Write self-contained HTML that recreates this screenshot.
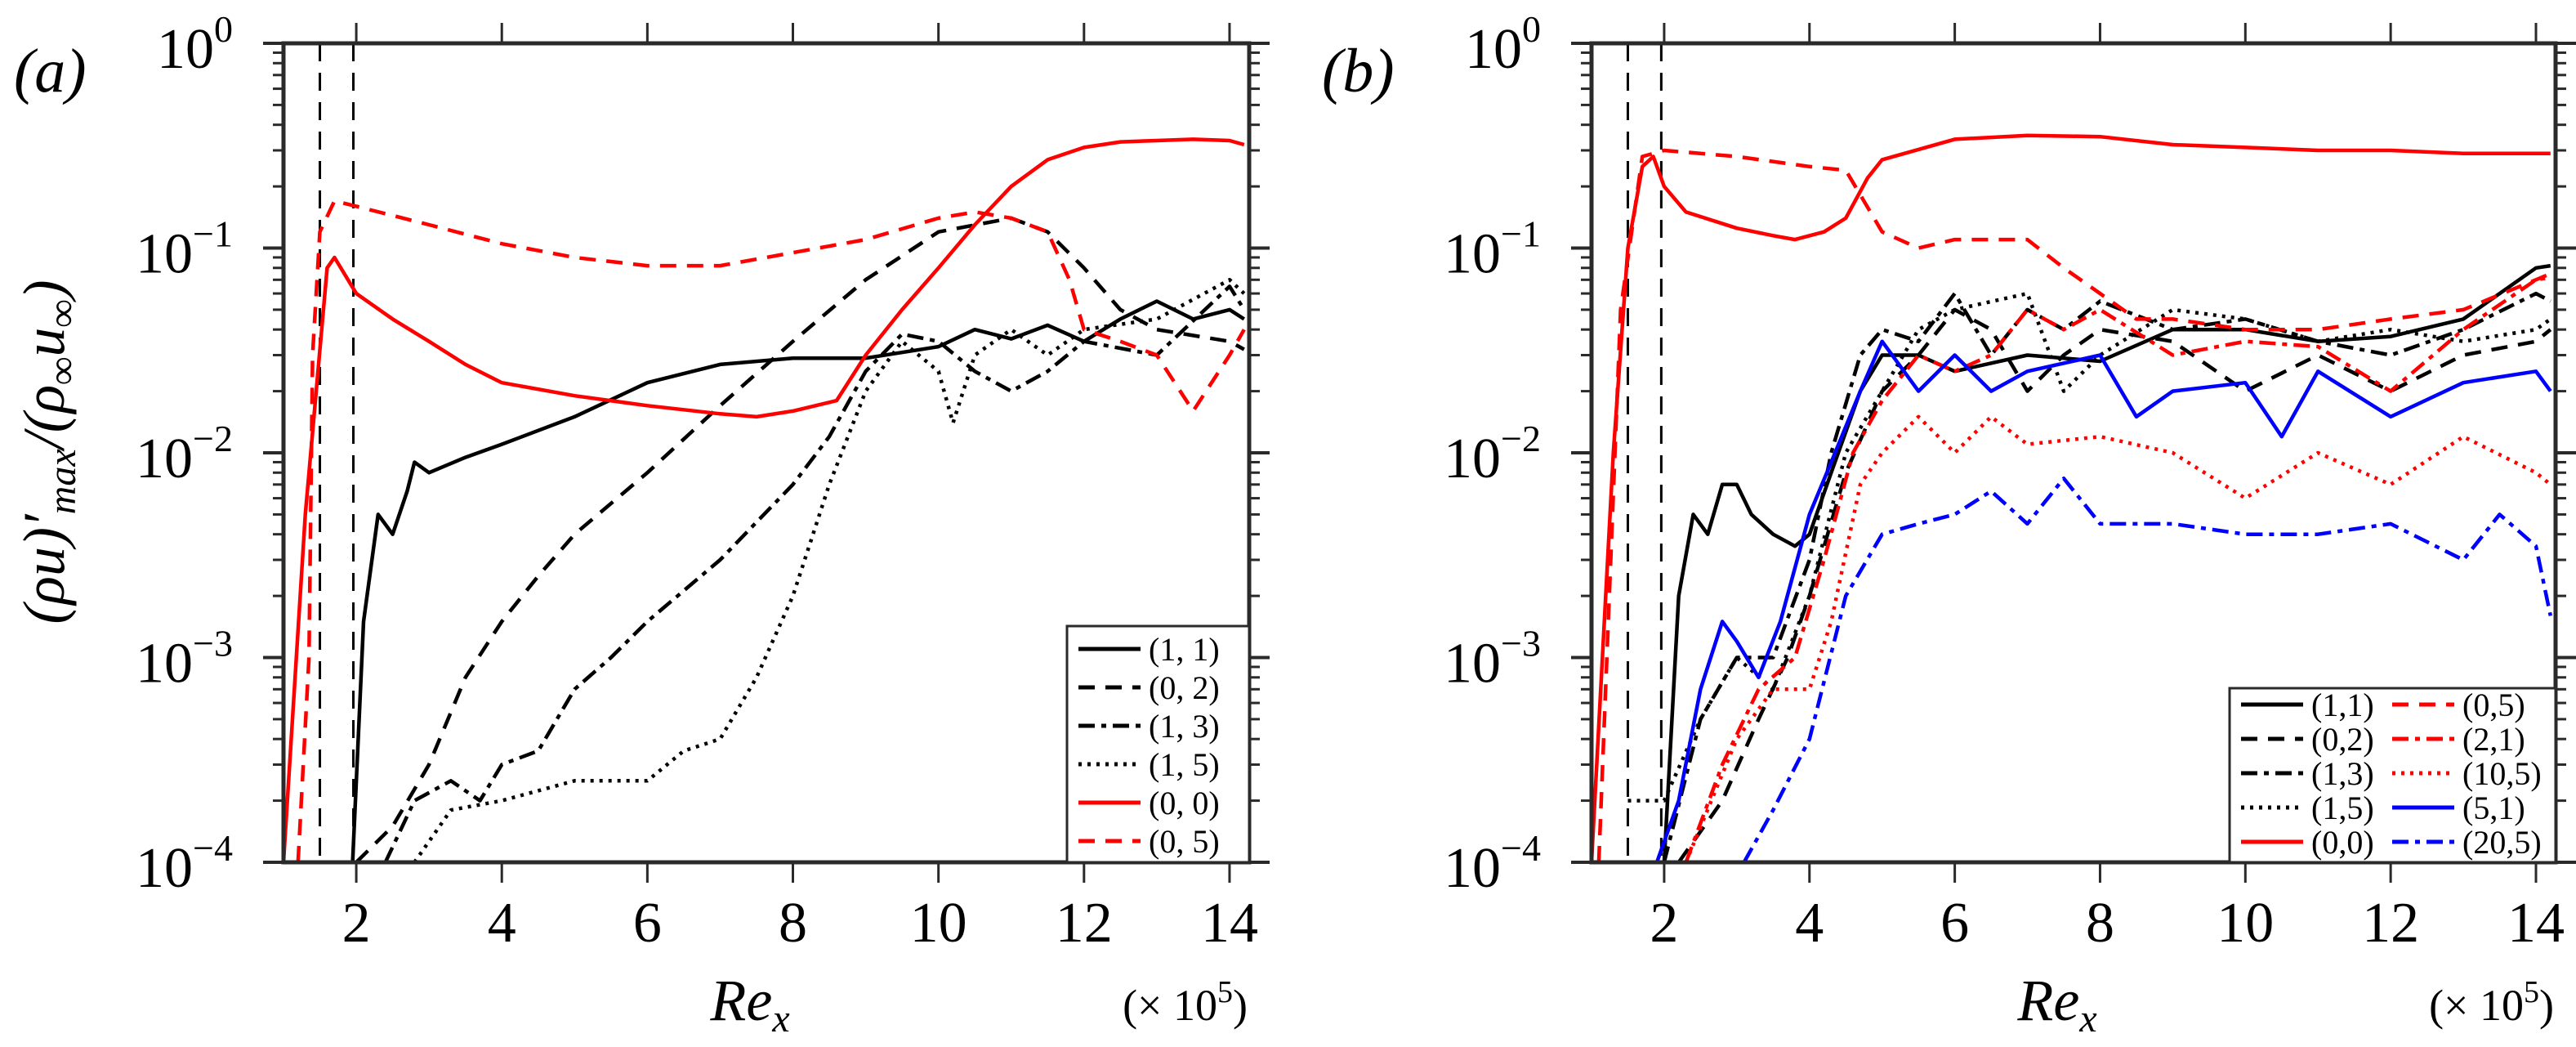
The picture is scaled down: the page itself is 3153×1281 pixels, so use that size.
<!DOCTYPE html>
<html><head><meta charset="utf-8"><style>
html,body{margin:0;padding:0;background:#fff;}
svg{display:block;font-family:"Liberation Serif","DejaVu Serif",serif;}
</style></head><body>
<svg id="chart" width="3153" height="1281" viewBox="0 0 3153 1281" xmlns="http://www.w3.org/2000/svg"></svg>
<script>
// ---------- data: panel (a) ----------
const aX11=[1.95,2.1,2.3,2.5,2.7,2.8,3,3.5,4,5,6,7,8,9,10,10.5,11,11.5,12,12.5,13,13.5,14,14.2];
const aY11=[1e-4,0.0015,0.005,0.004,0.0065,0.009,0.008,0.0095,0.011,0.015,0.022,0.027,0.029,0.029,0.033,0.04,0.036,0.042,0.035,0.045,0.055,0.045,0.05,0.045];
const aX02=[2,2.5,3,3.5,4,4.5,5,6,7,8,9,10,11,11.5,12,12.5,13,14,14.2];
const aY02=[1e-4,1.5e-4,3e-4,8e-4,0.0015,0.0025,0.004,0.008,0.017,0.035,0.07,0.12,0.14,0.12,0.08,0.05,0.04,0.035,0.032];
const aX13=[2.4,2.8,3.3,3.7,4,4.5,5,5.5,6,7,8,8.5,9,9.5,10,10.5,11,11.5,12,13,14,14.2];
const aY13=[1e-4,2e-4,2.5e-4,2e-4,3e-4,3.5e-4,7e-4,0.001,0.0015,0.003,0.007,0.012,0.025,0.038,0.035,0.025,0.02,0.025,0.035,0.03,0.065,0.05];
const aX15=[2.8,3.3,4,5,6,6.5,7,7.5,8,8.5,9,9.5,10,10.2,10.5,11,11.5,12,13,14,14.2];
const aY15=[1e-4,1.8e-4,2e-4,2.5e-4,2.5e-4,3.5e-4,4e-4,8e-4,0.002,0.007,0.02,0.035,0.025,0.014,0.03,0.04,0.03,0.04,0.045,0.07,0.06];
const aX00=[1.0,1.3,1.6,1.7,2.0,2.5,3,3.5,4,5,6,7,7.5,8,8.6,9,9.5,10,10.5,11,11.5,12,12.5,13,13.5,14,14.2];
const aY00=[1e-4,0.005,0.08,0.09,0.06,0.045,0.035,0.027,0.022,0.019,0.017,0.0155,0.015,0.016,0.018,0.03,0.05,0.08,0.13,0.2,0.27,0.31,0.33,0.335,0.34,0.335,0.32];
const aX05=[1.2,1.35,1.4,1.5,1.7,2,3,4,5,6,7,8,9,10,10.5,11,11.5,11.8,12,12.5,13,13.5,14,14.2];
const aY05=[1e-4,1e-3,0.03,0.12,0.17,0.16,0.13,0.105,0.09,0.082,0.082,0.095,0.11,0.14,0.15,0.14,0.12,0.07,0.04,0.035,0.03,0.016,0.03,0.04];
// ---------- data: panel (b) ----------
const bX00=[1.0,1.3,1.5,1.7,1.85,2,2.3,3,3.5,3.8,4.2,4.5,4.8,5,6,7,8,9,10,11,12,13,14,14.2];
const bY00=[1e-4,0.01,0.1,0.25,0.28,0.2,0.15,0.125,0.115,0.11,0.12,0.14,0.22,0.27,0.34,0.355,0.35,0.32,0.31,0.3,0.3,0.29,0.29,0.29];
const bX05=[1.1,1.4,1.7,2,3,4,4.5,5,5.5,6,7,7.5,8,8.5,9,10,11,12,13,14,14.2];
const bY05=[1e-4,0.05,0.28,0.3,0.28,0.25,0.24,0.12,0.1,0.11,0.11,0.08,0.06,0.045,0.045,0.04,0.04,0.045,0.05,0.07,0.075];
const bX11=[2,2.2,2.4,2.6,2.8,3,3.2,3.5,3.8,4,4.3,4.7,5,5.5,6,7,8,9,10,11,12,13,14,14.2];
const bY11=[1e-4,0.002,0.005,0.004,0.007,0.007,0.005,0.004,0.0035,0.004,0.008,0.02,0.03,0.03,0.025,0.03,0.028,0.04,0.04,0.035,0.037,0.045,0.08,0.082];
const bX02=[2.2,2.8,3.3,3.7,4,4.5,5,5.5,6,6.5,7,7.5,8,9,10,11,12,13,14,14.2];
const bY02=[1e-4,2e-4,5e-4,0.001,0.002,0.008,0.02,0.03,0.05,0.04,0.02,0.03,0.04,0.035,0.02,0.03,0.02,0.03,0.035,0.04];
const bX13=[2,2.5,3,3.5,4,4.3,4.7,5,5.5,6,6.5,7,7.5,8,9,10,11,12,13,14,14.2];
const bY13=[1e-4,5e-4,0.001,0.001,0.003,0.01,0.03,0.04,0.035,0.06,0.03,0.05,0.04,0.055,0.04,0.045,0.035,0.03,0.04,0.06,0.055];
const bX15=[1.5,2,2.5,3,3.5,4,4.5,5,5.5,6,7,7.5,8,9,10,11,12,13,14,14.2];
const bY15=[2e-4,2e-4,5e-4,0.001,0.0007,0.002,0.01,0.02,0.04,0.05,0.06,0.02,0.03,0.05,0.045,0.035,0.04,0.035,0.04,0.045];
const bX21=[2.3,2.8,3.3,3.8,4.2,4.6,5,5.5,6,6.5,7,7.5,8,9,10,11,12,13,14,14.2];
const bY21=[1e-4,3e-4,7e-4,0.001,0.003,0.01,0.018,0.03,0.025,0.03,0.05,0.04,0.05,0.03,0.035,0.033,0.02,0.04,0.07,0.072];
const bX105=[2.3,3,3.5,4,4.3,4.7,5,5.5,6,6.5,7,8,9,10,11,12,13,14,14.2];
const bY105=[1e-4,4e-4,0.0007,0.0007,0.0015,0.007,0.01,0.015,0.01,0.015,0.011,0.012,0.01,0.006,0.01,0.007,0.012,0.008,0.007];
const bX51=[1.9,2.2,2.5,2.8,3,3.3,3.6,4,4.3,4.7,5,5.5,6,6.5,7,8,8.5,9,10,10.5,11,12,13,14,14.2];
const bY51=[1e-4,2e-4,7e-4,0.0015,0.0012,0.0008,0.0015,0.005,0.009,0.02,0.035,0.02,0.03,0.02,0.025,0.03,0.015,0.02,0.022,0.012,0.025,0.015,0.022,0.025,0.02];
const bX205=[3.1,3.5,4,4.5,5,5.5,6,6.5,7,7.5,8,9,10,11,12,13,13.5,14,14.2];
const bY205=[1e-4,1.8e-4,0.0004,0.002,0.004,0.0045,0.005,0.0065,0.0045,0.0075,0.0045,0.0045,0.004,0.004,0.0045,0.003,0.005,0.0035,0.0016];
const xTicks=[2,4,6,8,10,12,14];
const yDecades=[0,-1,-2,-3,-4];

const NS="http://www.w3.org/2000/svg";
const svg=document.getElementById('chart');
function mk(tag,attrs,parent){const e=document.createElementNS(NS,tag);for(const k in attrs)e.setAttribute(k,attrs[k]);(parent||svg).appendChild(e);return e;}

const TOP=53,BOT=1055,XMIN=1.0,XMAX=14.27;
const panels=[{left:347,right:1529,name:'a'},{left:1948,right:3128,name:'b'}];
function xs(p,v){return p.left+(v-XMIN)/(XMAX-XMIN)*(p.right-p.left);}
function ys(v){return TOP+(-Math.log10(v))/4*(BOT-TOP);}

const DASH={solid:'',dash:'20,13',dashdot:'20,8,6,8',dot:'4,7'};

function drawPanel(p,series,legend,panelLabel){
  const g=mk('g',{});
  
  
  const cid='clip'+p.name;
  const cp=mk('clipPath',{id:cid},g);mk('rect',{x:p.left,y:TOP,width:p.right-p.left,height:BOT-TOP},cp);
  [1.5,1.96].forEach(v=>{
    const l=mk('line',{x1:xs(p,v),x2:xs(p,v),y1:TOP,y2:BOT,stroke:'#000','stroke-width':3,'stroke-dasharray':'22,14'},g);
    
    
  });
  const sg=mk('g',{'clip-path':'url(#'+cid+')'},g);
  series.forEach(s=>{
    const pts=s.x.map((v,i)=>xs(p,v).toFixed(1)+','+ys(s.y[i]).toFixed(1)).join(' ');
    const pl=mk('polyline',{points:pts,fill:'none',stroke:s.c,'stroke-width':4.5,'stroke-dasharray':DASH[s.d],'stroke-linejoin':'round'},sg);
    
    
  });
  const fr=mk('rect',{x:p.left,y:TOP,width:p.right-p.left,height:BOT-TOP,fill:'none',stroke:'#2a2a2a','stroke-width':5},g);
  
  
  xTicks.forEach(t=>{
    const x=xs(p,t);
    mk('line',{x1:x,x2:x,y1:BOT,y2:BOT+25,stroke:'#2a2a2a','stroke-width':3},g);
    mk('line',{x1:x,x2:x,y1:TOP,y2:TOP-25,stroke:'#2a2a2a','stroke-width':3},g);
    const tl=mk('text',{x:x,y:1152,'font-size':70,'text-anchor':'middle'},g);
    tl.textContent=t;
    
    
  });
  yDecades.forEach(d=>{
    const y=ys(Math.pow(10,d));
    mk('line',{x1:p.left-25,x2:p.left,y1:y,y2:y,stroke:'#2a2a2a','stroke-width':4},g);
    mk('line',{x1:p.right,x2:p.right+25,y1:y,y2:y,stroke:'#2a2a2a','stroke-width':4},g);
    const tl=mk('text',{x:p.left-62,y:y+30,'font-size':70,'text-anchor':'end'},g);
    
    
    const t1=mk('tspan',{},tl);t1.textContent='10';
    const t2=mk('tspan',{dy:-32,'font-size':46},tl);t2.textContent=(d===0?'0':'\u2212'+(-d));
    if(d>-4){for(let m=2;m<=9;m++){const yy=ys(m*Math.pow(10,d-1));
      mk('line',{x1:p.left-13,x2:p.left,y1:yy,y2:yy,stroke:'#2a2a2a','stroke-width':3},g);
      mk('line',{x1:p.right,x2:p.right+13,y1:yy,y2:yy,stroke:'#2a2a2a','stroke-width':3},g);}}
  });
  const pl=mk('text',{x:p.left-330,y:112,'font-size':76,'font-style':'italic'},g);
  pl.textContent=panelLabel;
  
  
  const xl=mk('text',{x:(p.left+p.right)/2-20,y:1248,'font-size':72,'font-style':'italic','text-anchor':'middle'},g);
  
  
  const r1=mk('tspan',{},xl);r1.textContent='Re';
  const r2=mk('tspan',{dy:14,'font-size':48},xl);r2.textContent='x';
  const sc=mk('text',{x:p.right-2,y:1248,'font-size':54,'text-anchor':'end'},g);
  
  
  const s1=mk('tspan',{},sc);s1.textContent='(\u00d7 10';
  const s2=mk('tspan',{dy:-22,'font-size':38},sc);s2.textContent='5';
  const s3=mk('tspan',{dy:22},sc);s3.textContent=')';
  const lg=mk('g',{},g);
  
  
  mk('rect',{x:legend.x,y:legend.y,width:p.right-legend.x,height:BOT-legend.y,fill:'#fff',stroke:'#2a2a2a','stroke-width':3},lg);
  legend.items.forEach((it,i)=>{
    const col=Math.floor(i/legend.rows),row=i%legend.rows;
    const bx=legend.x+14+col*legend.colW,by=legend.y+legend.y0+row*legend.dy;
    const e=mk('g',{},lg);
    
    
    mk('line',{x1:bx,x2:bx+76,y1:by,y2:by,stroke:it.c,'stroke-width':5,'stroke-dasharray':DASH[it.d]},e);
    const t=mk('text',{x:bx+86,y:by+14,'font-size':40},e);t.textContent=it.n;
  });
}

const A=[{x:aX11,y:aY11,c:'#000',d:'solid',n:'(1, 1)'},{x:aX02,y:aY02,c:'#000',d:'dash',n:'(0, 2)'},
{x:aX13,y:aY13,c:'#000',d:'dashdot',n:'(1, 3)'},{x:aX15,y:aY15,c:'#000',d:'dot',n:'(1, 5)'},
{x:aX00,y:aY00,c:'#f00',d:'solid',n:'(0, 0)'},{x:aX05,y:aY05,c:'#f00',d:'dash',n:'(0, 5)'}];
drawPanel(panels[0],A,{x:1306,y:766,y0:28,dy:47,rows:6,colW:0,items:A},'(a)');

const B=[{x:bX11,y:bY11,c:'#000',d:'solid',n:'(1,1)'},{x:bX02,y:bY02,c:'#000',d:'dash',n:'(0,2)'},
{x:bX13,y:bY13,c:'#000',d:'dashdot',n:'(1,3)'},{x:bX15,y:bY15,c:'#000',d:'dot',n:'(1,5)'},
{x:bX00,y:bY00,c:'#f00',d:'solid',n:'(0,0)'},{x:bX05,y:bY05,c:'#f00',d:'dash',n:'(0,5)'},
{x:bX21,y:bY21,c:'#f00',d:'dashdot',n:'(2,1)'},{x:bX105,y:bY105,c:'#f00',d:'dot',n:'(10,5)'},
{x:bX51,y:bY51,c:'#00f',d:'solid',n:'(5,1)'},{x:bX205,y:bY205,c:'#00f',d:'dashdot',n:'(20,5)'}];
drawPanel(panels[1],B,{x:2729,y:842,y0:20,dy:42,rows:5,colW:185,items:B},'(b)');

const yt=mk('text',{transform:'translate(78,553) rotate(-90)','font-size':72,'font-style':'italic','text-anchor':'middle'});


[['(\u03c1u)\u2032',0,72],['max',14,48],['/(\u03c1',-14,72],['\u221e',14,48],['u',-14,72],['\u221e',14,48],[')',-14,72]].forEach(a=>{
  const t=mk('tspan',{dy:a[1],'font-size':a[2]},yt);t.textContent=a[0];});
</script>
</body></html>
